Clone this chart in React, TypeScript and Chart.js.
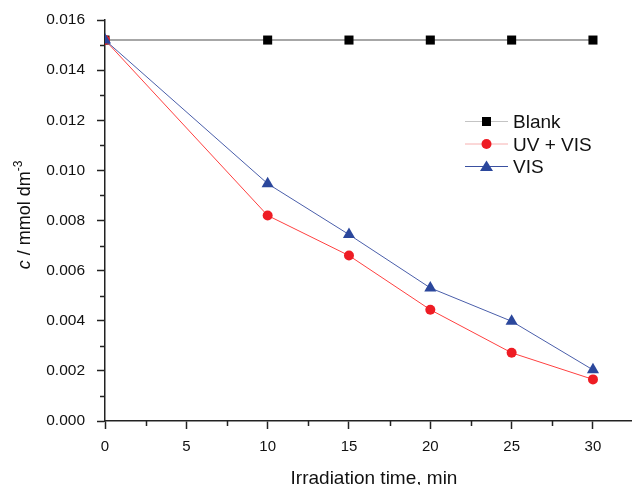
import React, { useEffect, useRef } from "react";
import { Chart, registerables } from "chart.js";

Chart.register(...registerables);

const times = [0, 10, 15, 20, 25, 30];
const blank = [0.0152, 0.0152, 0.0152, 0.0152, 0.0152, 0.0152];
const uvVis = [0.0152, 0.0082, 0.0066, 0.00444, 0.00272, 0.00166];
const vis = [0.0152, 0.00947, 0.00744, 0.00531, 0.00398, 0.00204];
const seriesNames = ["Blank", "UV + VIS", "VIS"];
const xTitle = "Irradiation time, min";

const FONT = "'Liberation Sans', Arial, sans-serif";

const extras = {
  id: "extras",
  afterDraw(chart: any) {
    const ctx = chart.ctx;
    const xs = chart.scales.x;
    const ys = chart.scales.y;
    const area = chart.chartArea;
    ctx.save();
    // minor ticks
    ctx.strokeStyle = "#222";
    ctx.lineWidth = 1.5;
    ctx.beginPath();
    for (let v = 2.5; v <= xs.max; v += 5) {
      const px = Math.round(xs.getPixelForValue(v)) + 0.5;
      ctx.moveTo(px, area.bottom);
      ctx.lineTo(px, area.bottom + 5);
    }
    for (let k = 1; k < 16; k += 2) {
      const py = Math.round(ys.getPixelForValue(k * 0.001)) + 0.5;
      ctx.moveTo(area.left, py);
      ctx.lineTo(area.left - 5, py);
    }
    ctx.stroke();

    // x title
    ctx.fillStyle = "#111";
    ctx.font = `19px ${FONT}`;
    ctx.textAlign = "center";
    ctx.textBaseline = "alphabetic";
    ctx.fillText(xTitle, 374, 484);

    // y title
    ctx.save();
    ctx.translate(30, 215);
    ctx.rotate(-Math.PI / 2);
    ctx.textBaseline = "alphabetic";
    ctx.textAlign = "left";
    const p1 = "c";
    const p2 = " / mmol dm";
    const p3 = "-3";
    ctx.font = `italic 18px ${FONT}`;
    const w1 = ctx.measureText(p1).width;
    ctx.font = `18px ${FONT}`;
    const w2 = ctx.measureText(p2).width;
    ctx.font = `12px ${FONT}`;
    const w3 = ctx.measureText(p3).width;
    const total = w1 + w2 + w3;
    let x0 = -total / 2;
    ctx.font = `italic 18px ${FONT}`;
    ctx.fillText(p1, x0, 0);
    x0 += w1;
    ctx.font = `18px ${FONT}`;
    ctx.fillText(p2, x0, 0);
    x0 += w2;
    ctx.font = `12px ${FONT}`;
    ctx.fillText(p3, x0, -8);
    ctx.restore();

    // legend
    const items = [
      { name: seriesNames[0], line: "#c4c4c4", fill: "#000", style: "rect", y: 121 },
      { name: seriesNames[1], line: "#f7b0b0", fill: "#ee1c24", style: "circle", y: 143.5 },
      { name: seriesNames[2], line: "#3a50a0", fill: "#2b479c", style: "triangle", y: 166 },
    ];
    for (const it of items) {
      ctx.strokeStyle = it.line;
      ctx.lineWidth = 1;
      ctx.beginPath();
      ctx.moveTo(465, it.y + 0.5);
      ctx.lineTo(508, it.y + 0.5);
      ctx.stroke();
      ctx.fillStyle = it.fill;
      const cx = 486.5;
      if (it.style === "rect") {
        ctx.fillRect(cx - 4.5, it.y - 4, 9, 9);
      } else if (it.style === "circle") {
        ctx.beginPath();
        ctx.arc(cx, it.y + 0.5, 5, 0, Math.PI * 2);
        ctx.fill();
      } else {
        ctx.beginPath();
        ctx.moveTo(cx, it.y - 5.5);
        ctx.lineTo(cx + 6.5, it.y + 5);
        ctx.lineTo(cx - 6.5, it.y + 5);
        ctx.closePath();
        ctx.fill();
      }
      ctx.fillStyle = "#111";
      ctx.font = `19px ${FONT}`;
      ctx.textAlign = "left";
      ctx.textBaseline = "alphabetic";
      ctx.fillText(it.name, 513, it.y + 7);
    }
    ctx.restore();
  },
};

export default function App() {
  const ref = useRef<HTMLCanvasElement>(null);
  useEffect(() => {
    if (!ref.current) return;
    const mk = (d: number[]) => times.map((t, i) => ({ x: t, y: d[i] }));
    const clip = { left: 0, top: 12, right: 12, bottom: 12 };
    const chart = new Chart(ref.current, {
      type: "line",
      data: {
        datasets: [
          {
            label: seriesNames[0],
            data: mk(blank),
            borderColor: "#8a8a8a",
            backgroundColor: "#000",
            borderWidth: 1.5,
            pointStyle: "rect",
            pointRadius: 6.4,
            pointBorderWidth: 0,
            pointBackgroundColor: "#000",
            order: 2,
            clip,
          },
          {
            label: seriesNames[1],
            data: mk(uvVis),
            borderColor: "#ff4040",
            backgroundColor: "#ee1c24",
            borderWidth: 1,
            pointStyle: "circle",
            pointRadius: 5,
            pointBorderWidth: 0,
            pointBackgroundColor: "#ee1c24",
            order: 1,
            clip,
          },
          {
            label: seriesNames[2],
            data: mk(vis),
            borderColor: "#4a5eaa",
            backgroundColor: "#2b479c",
            borderWidth: 1,
            pointStyle: "triangle",
            pointRadius: 7,
            pointBorderWidth: 0,
            pointBackgroundColor: "#2b479c",
            order: 0,
            clip,
          },
        ],
      },
      options: {
        animation: false,
        responsive: false,
        devicePixelRatio: 1,
        layout: { autoPadding: false, padding: { top: 20, right: 0, bottom: 0, left: 0 } },
        plugins: { legend: { display: false }, tooltip: { enabled: false } },
        scales: {
          x: {
            type: "linear",
            min: 0,
            max: 32.4,
            afterFit: (s: any) => {
              s.height = 64;
              s.paddingLeft = 0;
              s.paddingRight = 0;
            },
            afterBuildTicks: (s: any) => {
              s.ticks = [0, 5, 10, 15, 20, 25, 30].map((v) => ({ value: v }));
            },
            grid: {
              drawOnChartArea: false,
              drawTicks: true,
              tickLength: 8,
              tickColor: "#222",
              tickWidth: 1.5,
            },
            border: { display: true, color: "#222", width: 1.5 },
            ticks: {
              color: "#111",
              font: { family: FONT, size: 15 },
              padding: 9,
              maxRotation: 0,
              callback: (v: any) => String(v),
            },
          },
          y: {
            type: "linear",
            min: 0,
            max: 0.016,
            afterFit: (s: any) => {
              s.width = 105;
              s.paddingTop = 0;
              s.paddingBottom = 0;
            },
            afterBuildTicks: (s: any) => {
              s.ticks = [0, 1, 2, 3, 4, 5, 6, 7, 8].map((k) => ({ value: k * 0.002 }));
            },
            grid: {
              drawOnChartArea: false,
              drawTicks: true,
              tickLength: 8,
              tickColor: "#222",
              tickWidth: 1.5,
            },
            border: { display: true, color: "#222", width: 1.5 },
            ticks: {
              color: "#111",
              font: { family: FONT, size: 15.5 },
              padding: 12,
              callback: (v: any) => Number(v).toFixed(3),
            },
          },
        },
      },
      plugins: [extras],
    });
    return () => chart.destroy();
  }, []);
  return (
    <div style={{ position: "absolute", left: 0, top: 0, width: 632, height: 485, background: "#fff" }}>
      <canvas ref={ref} width={632} height={485} />
    </div>
  );
}
